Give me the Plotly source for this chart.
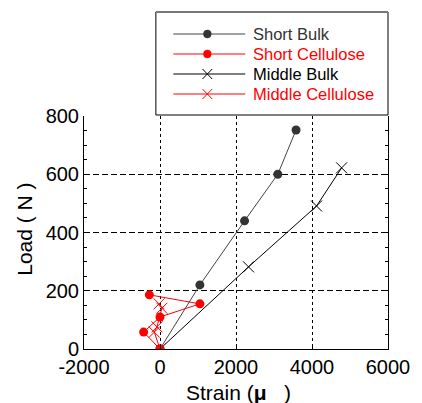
import plotly.graph_objects as go

# Data
short_bulk_x = [0, 1050, 2225, 3100, 3580]
short_bulk_y = [0, 220, 440, 600, 752]
short_cell_x = [0, -430, 0, 1050, -280]
short_cell_y = [0, 58, 110, 155, 186]
middle_bulk_x = [0, 2330, 4120, 4780]
middle_bulk_y = [0, 282, 491, 622]
middle_cell_x = [0, -150, -80, 50, -25]
middle_cell_y = [0, 58, 76, 140, 155]

series_names = ["Short Bulk", "Short Cellulose", "Middle Bulk", "Middle Cellulose"]
x_ticks = [-2000, 0, 2000, 4000, 6000]
y_ticks = [0, 200, 400, 600, 800]

FONT = "Liberation Sans, Arial, sans-serif"
RED = "#ff0000"
DARK = "#333333"

fig = go.Figure()
fig.add_trace(go.Scatter(x=short_bulk_x, y=short_bulk_y, mode="lines+markers",
                         line=dict(color="#444444", width=1),
                         marker=dict(symbol="circle", size=9, color=DARK),
                         name=series_names[0]))
fig.add_trace(go.Scatter(x=middle_bulk_x, y=middle_bulk_y, mode="lines+markers",
                         line=dict(color="black", width=1),
                         marker=dict(symbol="x-thin", size=11, line=dict(color="black", width=1)),
                         name=series_names[2]))
fig.add_trace(go.Scatter(x=short_cell_x, y=short_cell_y, mode="lines+markers",
                         line=dict(color=RED, width=1),
                         marker=dict(symbol="circle", size=9, color=RED),
                         name=series_names[1]))
fig.add_trace(go.Scatter(x=middle_cell_x, y=middle_cell_y, mode="lines+markers",
                         line=dict(color=RED, width=1),
                         marker=dict(symbol="x-thin", size=11, line=dict(color=RED, width=1)),
                         name=series_names[3]))

# Manual legend (paper coords)
L, R, T, B = 84, 397, 116, 349
W, H = R - L, B - T
def px(x):
    return (x - L) / W
def py(y):
    return (B - y) / H

shapes = [dict(type="rect", xref="paper", yref="paper", x0=px(158), x1=px(397),
               y0=py(115), y1=py(12), line=dict(color="black", width=1), fillcolor="white",
               layer="above"),
          dict(type="line", xref="paper", yref="paper", x0=px(158), x1=px(397),
               y0=py(12), y1=py(12), line=dict(color="#777777", width=2), layer="above")]
rows = [34, 54, 74, 94]
styles = [(DARK, "#444444", "circle"), (RED, RED, "circle"), ("black", "black", "x"), (RED, RED, "x")]
annotations = []
for name, yrow, (mc, lc, sym) in zip(series_names, rows, styles):
    shapes.append(dict(type="line", xref="paper", yref="paper", x0=px(176), x1=px(250),
                       y0=py(yrow), y1=py(yrow), line=dict(color=lc, width=1), layer="above"))
    if sym == "circle":
        shapes.append(dict(type="circle", xref="paper", yref="paper", x0=px(207), x1=px(215),
                           y0=py(yrow + 4), y1=py(yrow - 4), line=dict(color=mc, width=0.5),
                           fillcolor=mc, layer="above"))
    else:
        shapes.append(dict(type="line", xref="paper", yref="paper", x0=px(206), x1=px(216),
                           y0=py(yrow + 5), y1=py(yrow - 5), line=dict(color=mc, width=1), layer="above"))
        shapes.append(dict(type="line", xref="paper", yref="paper", x0=px(206), x1=px(216),
                           y0=py(yrow - 5), y1=py(yrow + 5), line=dict(color=mc, width=1), layer="above"))
    tc = RED if mc == RED else (DARK if sym == "circle" else "black")
    annotations.append(dict(xref="paper", yref="paper", x=px(256), y=py(yrow), xanchor="left",
                            yanchor="middle", text=name, showarrow=False,
                            font=dict(family=FONT, size=16.5, color=tc)))

annotations.append(dict(xref="paper", yref="paper", x=px(22), y=py(229), text="Load ( N )",
                        textangle=-90, showarrow=False, xanchor="center", yanchor="middle",
                        font=dict(family=FONT, size=21, color="black")))
annotations.append(dict(xref="paper", yref="paper", x=px(187), y=py(392),
                        text="Strain (<b>μ</b>&nbsp;&nbsp;&nbsp;)",
                        showarrow=False, xanchor="left", yanchor="middle",
                        font=dict(family=FONT, size=21, color="black")))

fig.update_layout(
    width=422, height=403,
    margin=dict(l=L, r=422 - R, t=T, b=403 - B),
    paper_bgcolor="white", plot_bgcolor="white",
    showlegend=False,
    font=dict(family=FONT, size=20, color="black"),
    shapes=shapes, annotations=annotations,
)
fig.update_xaxes(range=[-2000, 6000], tickvals=x_ticks, ticktext=[str(v) for v in x_ticks],
                 showline=True, linecolor="black", linewidth=1, mirror=False,
                 ticks="inside", ticklen=5, tickcolor="black",
                 showgrid=True, gridcolor="black", gridwidth=1, griddash="3px,3px",
                 zeroline=False, tickfont=dict(size=20))
fig.update_yaxes(range=[0, 800], tickvals=y_ticks, ticktext=[str(v) for v in y_ticks],
                 showline=True, linecolor="black", linewidth=1, mirror="ticks",
                 ticks="inside", ticklen=5, tickcolor="black",
                 minor=dict(ticks="inside", ticklen=3, dtick=50, tickcolor="black", showgrid=False),
                 showgrid=True, gridcolor="black", gridwidth=1, griddash="6px,3px",
                 zeroline=False, tickfont=dict(size=20))

fig.write_html("out.html", config={"displayModeBar": False},
               post_script="document.body.style.margin='0';document.body.style.overflow='hidden';")
